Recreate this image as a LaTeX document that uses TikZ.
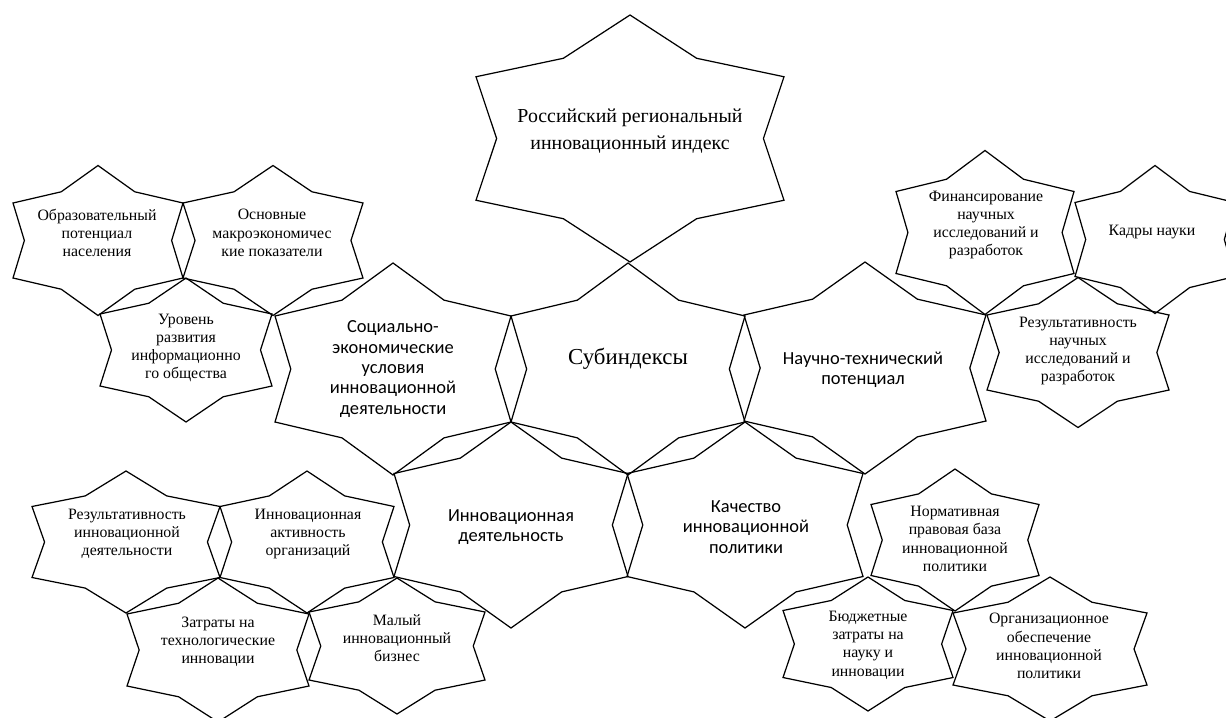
\documentclass[tikz,border=0pt]{standalone}
\usepackage{fontspec}
\setmainfont{Liberation Serif}
\newfontfamily\calib{Carlito}

% six-pointed star: centre, half width, half height
\newcommand\zvezda[4]{%
  \pgfmathsetmacro\za{0.577*0.75*#3}%
  \pgfmathsetmacro\zb{0.866*0.75*#4}%
  \pgfmathsetmacro\zc{1.155*0.75*#3}%
  \pgfmathsetmacro\zh{#4/2}%
  \draw[zvline,shift={(#1,#2)}] (0,-#4) -- (\za,-\zb) -- (#3,-\zh) -- (\zc,0) -- (#3,\zh) -- (\za,\zb)
    -- (0,#4) -- (-\za,\zb) -- (-#3,\zh) -- (-\zc,0) -- (-#3,-\zh) -- (-\za,-\zb) -- cycle;}

\tikzset{
  zvline/.style={draw=black, line width=0.7pt, line join=miter},
  sertxt/.style={align=center, inner sep=0pt, font=\fontsize{9}{10.4}\selectfont},
  santxt/.style={align=center, inner sep=0pt, font=\calib\fontsize{10.5}{11.6}\selectfont},
}

\begin{document}
\begin{tikzpicture}[x=0.02cm, y=-0.02cm]
\useasboundingbox (0,0) rectangle (1226,717);
\clip (0,0) rectangle (1226,717);

\foreach \cx/\cy/\w/\h in {630/138.5/154/123.5,
  393/369/118/106, 628/369/117/106, 865/368/121/106,
  511/525/117/103, 745/525/118/103,
  98/240.5/85/75, 273/240.5/90/75, 186/350/86/72,
  985/232.5/89/82, 1155/239.5/80/74, 1078/352.5/91/75,
  126/542/94/71, 307/542/87/71, 218/650/91/72, 397/646/88/68,
  955/540/84/71, 868/644/85/67, 1050/649/97/72}
  {\zvezda{\cx}{\cy}{\w}{\h}}

\node[align=center, inner sep=0pt, font=\fontsize{11.3}{15.4}\selectfont] (index) at (630,131)
  {Российский региональный\\инновационный индекс};
\node[inner sep=0pt, font=\fontsize{13}{15}\selectfont] (subind) at (628,359) {Субиндексы};

\node[santxt] (socek) at (393,369) {Социально-\\экономические\\условия\\инновационной\\деятельности};
\node[santxt] (nauch) at (863,370) {Научно-технический\\потенциал};
\node[santxt] (innd) at (511,527) {Инновационная\\деятельность};
\node[santxt] (kach) at (746,527) {Качество\\инновационной\\политики};

\node[sertxt] (obraz) at (97,233) {Образовательный\\потенциал\\населения};
\node[sertxt] (osnov) at (272,233) {Основные\\макроэкономичес\\кие показатели};
\node[sertxt] (urov) at (186,348) {Уровень\\развития\\информационно\\го общества};

\node[sertxt] (finans) at (986,225) {Финансирование\\научных\\исследований и\\разработок};
\node[sertxt] (kadry) at (1152,232) {Кадры науки};
\node[sertxt] (reznauch) at (1078,351) {Результативность\\научных\\исследований и\\разработок};

\node[sertxt] (rezinn) at (127,534) {Результативность\\инновационной\\деятельности};
\node[sertxt] (innakt) at (308,534) {Инновационная\\активность\\организаций};
\node[sertxt] (zatr) at (218,642) {Затраты на\\технологические\\инновации};
\node[sertxt] (maly) at (397,638) {Малый\\инновационный\\бизнес};

\node[sertxt] (norm) at (955,539) {Нормативная\\правовая база\\инновационной\\политики};
\node[sertxt] (budzh) at (868,645) {Бюджетные\\затраты на\\науку и\\инновации};
\node[sertxt] (organ) at (1049,646) {Организационное\\обеспечение\\инновационной\\политики};
\end{tikzpicture}
\end{document}
